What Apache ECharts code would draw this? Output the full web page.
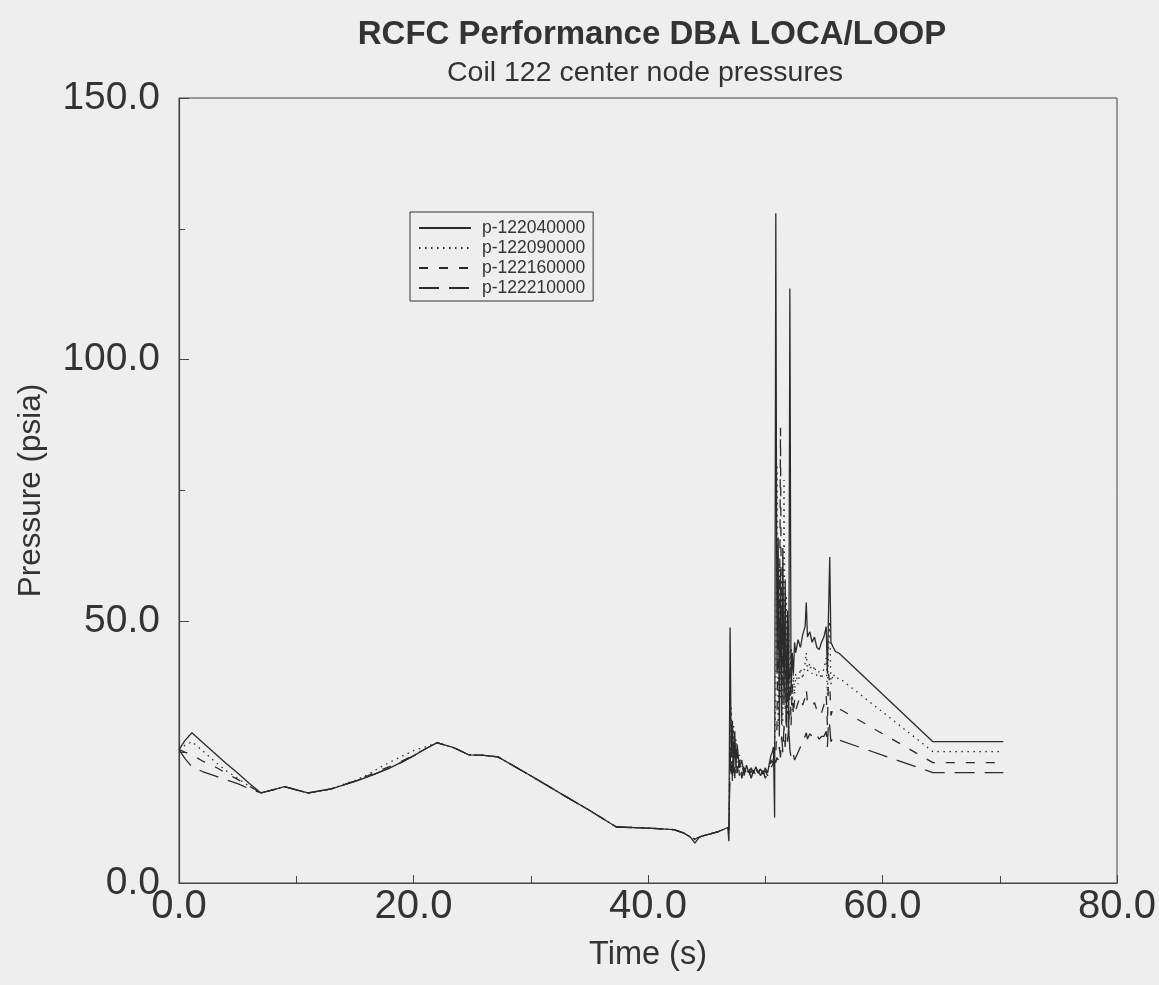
<!DOCTYPE html>
<html>
<head>
<meta charset="utf-8">
<script src="https://cdn.jsdelivr.net/npm/echarts@6/dist/echarts.min.js"></script>
<style>
html,body{margin:0;padding:0;background:#eeeeee;}
#chart{width:1159px;height:985px;}
</style>
</head>
<body>
<div id="chart"></div>
<script>
// Time (s)
const times = [
  0, 0.5, 1.1, 2, 3, 4, 5, 6, 7, 8, 9, 10, 11, 13, 15, 16, 17, 18, 19, 20,
  21, 22, 23.5, 24.7, 26, 27.2, 30, 33, 35, 37.3, 40, 42.2, 43, 43.6, 44, 44.4, 45, 46, 46.8,
  46.9, 47.0, 47.1, 47.2, 47.3, 47.4, 47.5, 47.6, 47.8, 48.0,
  48.2, 48.4, 48.6, 48.8, 49.0, 49.2, 49.4, 49.6, 49.8, 50.0,
  50.2, 50.4, 50.5, 50.6, 50.7, 50.8, 50.9, 51.0, 51.1, 51.2,
  51.3, 51.4, 51.5, 51.6, 51.7, 51.8, 51.9, 52.0, 52.1, 52.2,
  52.3, 52.4, 52.5, 52.6, 52.8, 53.0, 53.2, 53.4, 53.5, 53.6,
  53.8, 54.0, 54.2, 54.4, 54.6, 54.8, 55.0, 55.2, 55.3, 55.4,
  55.5, 55.6, 55.8, 56.0, 56.3,
  64.3, 70.3
];
// p-122040000 (solid)
const p122040000 = [
  25.5, 27.2, 28.7, 26.9, 24.9, 22.9, 21.0, 19.0, 17.2, 17.8, 18.4, 17.8, 17.2, 18.0, 19.4, 20.2, 21.1, 22.0, 23.1, 24.3,
  25.6, 26.8, 25.8, 24.5, 24.4, 24.1, 20.5, 16.5, 13.9, 10.7, 10.5, 10.2, 9.6, 8.8, 7.6, 8.8, 9.2, 9.8, 10.6,
  8.0, 48.8, 24.0, 31.0, 21.0, 29.0, 22.0, 26.5, 22.0, 23.5,
  20.5, 22.5, 21.0, 22.0, 21.0, 22.2, 21.0, 21.8, 20.8, 22.0,
  21.0, 23.5, 24.5, 25.0, 26.0, 12.5, 128.0, 40.0, 66.0, 28.0,
  60.0, 32.0, 64.0, 35.0, 58.0, 30.0, 52.0, 28.0, 113.6, 36.0,
  44.0, 40.0, 46.0, 44.0, 46.5, 45.0, 47.5, 49.0, 53.6, 47.0,
  48.0, 46.0, 47.0, 45.0, 44.6, 46.0, 47.0, 49.0, 40.0, 52.0,
  62.3, 46.0, 45.0, 44.2, 43.9,
  27.0, 27.0
];
// p-122090000 (dotted)
const p122090000 = [
  25.5, 26.3, 27.0, 25.3, 23.3, 21.5, 20.0, 18.5, 17.2, 17.8, 18.4, 17.8, 17.2, 18.0, 19.6, 20.6, 21.9, 23.1, 24.2, 25.3,
  26.0, 26.8, 25.8, 24.5, 24.4, 24.1, 20.5, 16.5, 13.9, 10.7, 10.5, 10.2, 9.6, 8.8, 8.3, 8.8, 9.2, 9.8, 10.6,
  9.5, 30.0, 33.5, 22.0, 30.0, 24.0, 27.5, 21.5, 24.5, 20.5,
  22.5, 21.0, 22.0, 20.5, 21.5, 21.0, 22.0, 20.8, 21.5, 20.5,
  22.0, 22.5, 23.0, 24.0, 23.5, 27.0, 35.0, 80.0, 30.0, 62.0,
  35.0, 58.0, 30.0, 77.0, 33.0, 55.0, 32.0, 48.0, 35.0, 45.0,
  33.0, 40.0, 36.0, 40.0, 38.0, 41.0, 39.0, 42.0, 44.0, 40.5,
  42.0, 40.0, 41.5, 39.5, 40.5, 39.0, 41.0, 43.0, 36.0, 46.0,
  50.0, 38.0, 40.0, 39.0, 39.2,
  25.1, 25.1
];
// p-122160000 (short dash)
const p122160000 = [
  25.5, 25.0, 24.5, 23.3, 22.3, 21.0, 19.8, 18.5, 17.2, 17.8, 18.4, 17.8, 17.2, 18.0, 19.5, 20.4, 21.4, 22.3, 23.3, 24.4,
  25.6, 26.8, 25.8, 24.5, 24.4, 24.1, 20.5, 16.5, 13.9, 10.7, 10.5, 10.2, 9.6, 8.8, 8.4, 8.8, 9.2, 9.8, 10.6,
  10.0, 26.0, 20.0, 29.0, 23.5, 27.0, 21.0, 25.0, 20.5, 22.5,
  21.0, 22.0, 20.5, 21.5, 20.5, 22.0, 21.0, 21.8, 20.5, 21.5,
  20.5, 22.0, 23.5, 23.0, 24.0, 24.5, 25.0, 30.0, 55.0, 38.0,
  87.0, 30.0, 52.0, 34.0, 48.0, 30.0, 45.0, 28.0, 42.0, 30.0,
  38.0, 32.0, 35.0, 33.0, 34.5, 35.6, 34.0, 35.5, 37.0, 34.5,
  34.0, 33.7, 34.5, 33.0, 33.5, 32.5, 34.0, 36.0, 30.0, 40.0,
  38.0, 32.0, 33.5, 33.2, 33.3,
  23.0, 23.0
];
// p-122210000 (long dash)
const p122210000 = [
  25.5, 23.8, 22.2, 21.3, 20.5, 19.7, 19.0, 18.0, 17.2, 17.8, 18.4, 17.8, 17.2, 18.0, 19.4, 20.2, 21.1, 22.0, 23.1, 24.3,
  25.6, 26.8, 25.8, 24.5, 24.4, 24.1, 20.5, 16.5, 13.9, 10.7, 10.5, 10.2, 9.6, 8.8, 8.5, 8.8, 9.2, 9.8, 10.6,
  10.2, 22.0, 28.0, 19.0, 27.0, 20.0, 25.5, 21.0, 23.5, 20.0,
  22.0, 20.5, 21.5, 20.0, 21.5, 20.5, 21.5, 20.5, 21.5, 20.0,
  21.0, 21.5, 22.0, 22.5, 23.0, 23.5, 23.0, 24.0, 23.5, 26.0,
  24.0, 28.0, 25.0, 30.0, 26.0, 32.0, 27.0, 30.0, 25.5, 24.0,
  25.0, 24.5, 23.5, 24.0, 25.0, 26.0, 27.5, 28.0, 28.7, 27.5,
  28.5, 28.0, 27.5, 28.2, 27.5, 28.0, 28.0, 29.0, 26.0, 31.0,
  30.0, 27.0, 27.8, 27.4, 27.3,
  21.1, 21.1
];
const seriesNames = ['p-122040000', 'p-122090000', 'p-122160000', 'p-122210000'];
const xTicks = [0, 20, 40, 60, 80];
const yTicks = [0, 50, 100, 150];

const valuesList = [p122040000, p122090000, p122160000, p122210000];
const dashes = ['solid', [1.5, 4.5], [9, 11], [20, 10]];
const lineColor = '#2b2b2b';

function zip(vals) { return times.map((t, i) => [t, vals[i]]); }

const chart = echarts.init(document.getElementById('chart'), null, {renderer: 'canvas'});
const font = 'Liberation Sans, Arial, Helvetica, sans-serif';

chart.setOption({
  backgroundColor: '#eeeeee',
  animation: false,
  title: [
    {text: 'RCFC Performance DBA LOCA/LOOP', left: 647, top: 13, textAlign: 'center',
     textStyle: {fontFamily: font, fontSize: 33, fontWeight: 'bold', color: '#333'}},
    {text: 'Coil 122 center node pressures', left: 640, top: 54, textAlign: 'center',
     textStyle: {fontFamily: font, fontSize: 28.5, fontWeight: 'normal', color: '#333'}}
  ],
  legend: {
    orient: 'vertical', left: 410, top: 212,
    data: seriesNames,
    itemWidth: 52, itemHeight: 10, itemGap: 2,
    padding: [7, 8, 4, 8],
    borderColor: '#333', borderWidth: 1,
    itemStyle: {opacity: 0},
    textStyle: {fontFamily: font, fontSize: 17.5, color: '#333', padding: [0, 0, 0, 6]},
    selectedMode: false
  },
  grid: {left: 179, right: 42, top: 98, bottom: 102, show: true, borderColor: '#444', borderWidth: 1, backgroundColor: 'transparent'},
  xAxis: {
    type: 'value', min: xTicks[0], max: xTicks[xTicks.length - 1], interval: 20,
    name: 'Time (s)', nameLocation: 'middle', nameGap: 56,
    nameTextStyle: {fontFamily: font, fontSize: 32.5, color: '#333'},
    axisLine: {show: true, lineStyle: {color: '#444', width: 1.2}},
    axisTick: {show: true, inside: true, length: 8, lineStyle: {color: '#444'}},
    minorTick: {show: true, splitNumber: 2, length: 7, lineStyle: {color: '#444'}},
    splitLine: {show: false},
    axisLabel: {fontFamily: font, fontSize: 40, color: '#333', margin: 4, formatter: v => v.toFixed(1)}
  },
  yAxis: {
    type: 'value', min: yTicks[0], max: yTicks[yTicks.length - 1], interval: 50,
    name: 'Pressure (psia)', nameLocation: 'middle', nameGap: 132, nameRotate: 90,
    nameTextStyle: {fontFamily: font, fontSize: 31.5, color: '#333'},
    axisLine: {show: true, lineStyle: {color: '#444', width: 1.2}},
    axisTick: {show: true, inside: true, length: 10, lineStyle: {color: '#444'}},
    minorTick: {show: true, splitNumber: 2, length: 6, lineStyle: {color: '#444'}},
    splitLine: {show: false},
    axisLabel: {fontFamily: font, fontSize: 39, color: '#333', margin: 19, formatter: v => v.toFixed(1)}
  },
  series: seriesNames.map((name, i) => ({
    name: name, type: 'line', symbol: 'none', showSymbol: false,
    data: zip(valuesList[i]),
    lineStyle: {color: lineColor, width: 1.3, type: dashes[i]},
    itemStyle: {color: lineColor},
    z: 10 - i
  }))
});
</script>
</body>
</html>
